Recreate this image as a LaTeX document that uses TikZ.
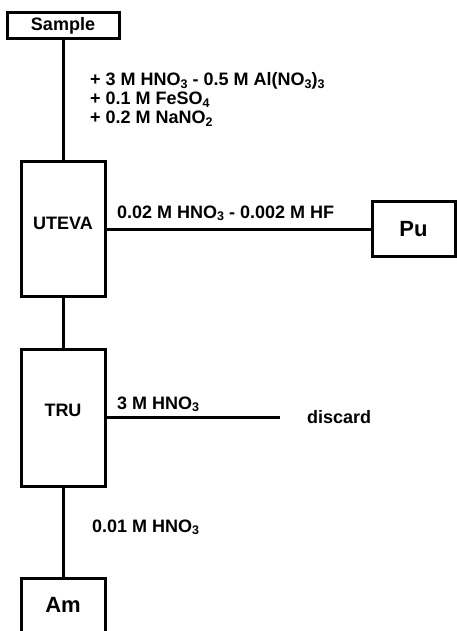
\documentclass[tikz,border=0pt]{standalone}
\usepackage{fontspec}
\setmainfont{Liberation Sans}
\newcommand{\sbs}[1]{\raisebox{-2.5pt}{\fontsize{12.5}{13}\selectfont #1}}
\begin{document}
\begin{tikzpicture}[x=1pt,y=-1pt,
  box/.style={draw, line width=3pt, inner sep=0pt, font=\bfseries\fontsize{18}{21}\selectfont},
  big/.style={font=\bfseries\fontsize{22}{26}\selectfont},
  lbl/.style={anchor=base west, inner sep=0pt, font=\bfseries\fontsize{18}{21}\selectfont},
  conn/.style={line width=3pt}]
\useasboundingbox[fill=white] (0,0) rectangle (456,631);
% boxes
\node[box, minimum width=112pt, minimum height=26pt] (sample) at (63,26) {Sample};
\node[box, minimum width=84pt, minimum height=135pt, text depth=12pt] (uteva) at (63,229) {UTEVA};
\node[box, big, minimum width=83pt, minimum height=55pt] (pu) at (413.5,229) {Pu};
\node[box, minimum width=84pt, minimum height=137pt, text depth=14pt] (tru) at (63,417.5) {TRU};
\node[box, big, minimum width=84pt, minimum height=58pt, text depth=4pt] (am) at (63,607) {Am};
\coordinate (dend) at (280,417.5);
% connectors
\draw[conn] (sample.south) -- (uteva.north);
\draw[conn] (uteva.east) -- (pu.west);
\draw[conn] (uteva.south) -- (tru.north);
\draw[conn] (tru.east) -- (dend);
\draw[conn] (tru.south) -- (am.north);
% labels
\node[lbl] (l1) at (90,86) {+ 3 M HNO\sbs{3} - 0.5 M Al(NO\sbs{3})\sbs{3}};
\node[lbl] (l2) at (90,105) {+ 0.1 M FeSO\sbs{4}};
\node[lbl] (l3) at (90,124) {+ 0.2 M NaNO\sbs{2}};
\node[lbl] (l4) at (117,218) {0.02 M HNO\sbs{3} - 0.002 M HF};
\node[lbl] (l5) at (117,409) {3 M HNO\sbs{3}};
\node[lbl] (discard) at (307,423) {discard};
\node[lbl] (l6) at (92,532) {0.01 M HNO\sbs{3}};
\end{tikzpicture}
\end{document}
